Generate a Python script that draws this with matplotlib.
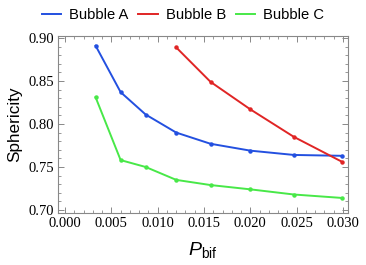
import matplotlib
matplotlib.use('Agg')
import matplotlib.pyplot as plt
from matplotlib.ticker import MultipleLocator, FormatStrFormatter

# values
P_A = [0.0033, 0.0060, 0.0087, 0.0120, 0.0157, 0.0200, 0.0247, 0.0299]
S_A = [0.891, 0.837, 0.811, 0.790, 0.777, 0.769, 0.764, 0.763]
P_B = [0.0120, 0.0157, 0.0200, 0.0247, 0.0299]
S_B = [0.889, 0.849, 0.817, 0.785, 0.756]
P_C = [0.0033, 0.0060, 0.0087, 0.0120, 0.0157, 0.0200, 0.0247, 0.0299]
S_C = [0.831, 0.758, 0.750, 0.735, 0.729, 0.724, 0.718, 0.714]

LABELS = ['Bubble A', 'Bubble B', 'Bubble C']
COLORS = ['#2350e0', '#e02525', '#48e848']

plt.rcParams['mathtext.fontset'] = 'custom'
plt.rcParams['mathtext.it'] = 'Liberation Sans:italic'
plt.rcParams['mathtext.rm'] = 'Liberation Sans'

fig = plt.figure(figsize=(3.66, 2.65), dpi=100)
ax = fig.add_axes([58 / 366, 1 - 213 / 265, 290 / 366, 177 / 265])

for xs, ys, label, color in zip([P_A, P_B, P_C], [S_A, S_B, S_C], LABELS, COLORS):
    ax.plot(xs, ys, color=color, lw=1.4, marker='o', markersize=2.2, label=label)

ax.set_xlim(-0.00076, 0.03054)
ax.set_ylim(0.6965, 0.9023)
ax.xaxis.set_major_locator(MultipleLocator(0.005))
ax.xaxis.set_minor_locator(MultipleLocator(0.001))
ax.yaxis.set_major_locator(MultipleLocator(0.05))
ax.yaxis.set_minor_locator(MultipleLocator(0.01))
ax.xaxis.set_major_formatter(FormatStrFormatter('%.3f'))
ax.yaxis.set_major_formatter(FormatStrFormatter('%.2f'))

for s in ax.spines.values():
    s.set_color('#888888')
    s.set_linewidth(0.8)
ax.tick_params(which='both', direction='in', top=True, right=True, color='#888888',
               labelsize=10.5, pad=3)
ax.tick_params(which='major', length=4, width=0.7)
ax.tick_params(which='minor', length=2, width=0.6)
for lbl in ax.get_xticklabels() + ax.get_yticklabels():
    lbl.set_family('Liberation Serif')

ax.set_ylabel('Sphericity', fontsize=12.3, family='Liberation Sans', labelpad=4)
ax.set_xlabel(r'$P_{\mathrm{bif}}$', fontsize=14, labelpad=7)

fig.legend(loc='upper center', bbox_to_anchor=(0.5, 1.018), ncol=3, frameon=False,
           handlelength=1.3, columnspacing=0.7, handletextpad=0.55,
           prop={'family': 'Liberation Sans', 'size': 10.6})
for h in fig.legends[0].legend_handles:
    h.set_marker('')

fig.savefig('out.png', dpi=100)
